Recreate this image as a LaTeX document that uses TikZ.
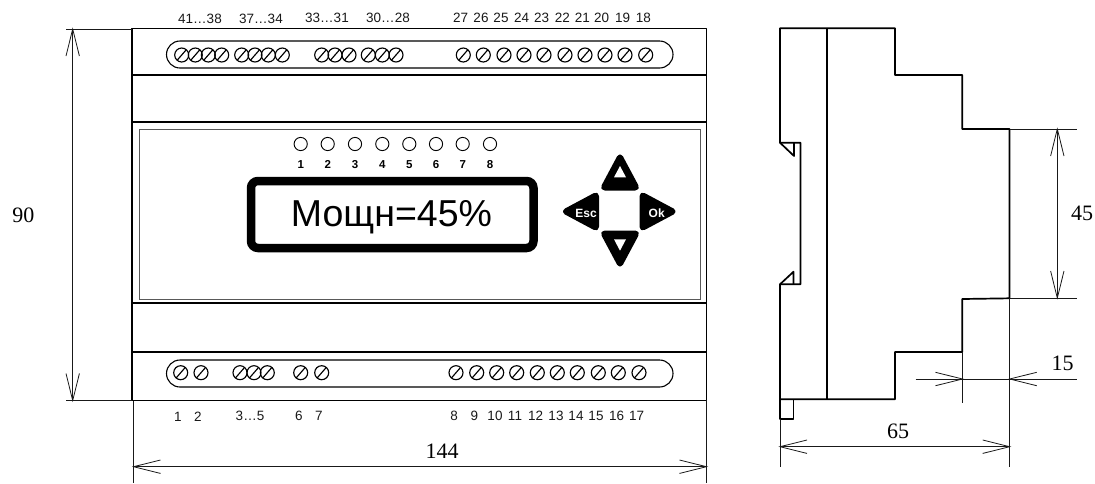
\documentclass[tikz,border=0pt]{standalone}
\usepackage{fontspec}
\setmainfont{Liberation Sans}
\newfontfamily\dimfont{Liberation Serif}
\tikzset{
  x=1pt,y=-1pt,
  outl/.style={draw=black,line width=1.7pt,line join=round},
  panelline/.style={draw=black!65,line width=0.9pt},
  slotline/.style={draw=black,line width=1.1pt},
  thinl/.style={draw=black!90,line width=0.8pt},
  screwc/.style={draw=black,line width=1.15pt},
  ledc/.style={draw=black,line width=0.9pt},
  termlab/.style={anchor=base,inner sep=0pt,font=\fontsize{13.5}{15}\selectfont,text=black!90},
  ledlab/.style={anchor=base,inner sep=0pt,font=\fontsize{11.5}{13}\selectfont\bfseries},
  dimlab/.style={anchor=base,inner sep=0pt,font=\dimfont\fontsize{22}{24}\selectfont},
  btn/.style={fill=black,draw=black,line width=2pt,line join=round,rounded corners=4.5pt},
  btnlab/.style={inner sep=0pt,text=white,font=\fontsize{12}{13}\selectfont\bfseries},
}
\newcommand{\screw}[2]{%
  \draw[screwc] (#1,#2) circle[radius=7];
  \draw[screwc] (#1+4.6,#2-5.3) -- (#1-4.6,#2+5.3);}
\newcommand{\headV}[3]{\draw[thinl] (#1-6.7,#2+#3) -- (#1,#2) -- (#1+6.7,#2+#3);}
\newcommand{\headH}[3]{\draw[thinl] (#1+#3,#2-6.7) -- (#1,#2) -- (#1+#3,#2+6.7);}
\begin{document}
\begin{tikzpicture}
\useasboundingbox (0,0) rectangle (1095,483);
% ---- front body
\draw[outl] (132,28.5) rectangle (706.5,400.5);
\foreach \yy in {75,122,303,352} {\draw[outl] (132,\yy) -- (706.5,\yy);}
\draw[panelline] (139,129.5) rectangle (700,299.5);
% slots
\draw[slotline,rounded corners=13.5pt] (166.5,41) rectangle (673,68);
\draw[slotline,rounded corners=13.5pt] (166.5,360) rectangle (673,387);
% top screws
\foreach \sx in {181.7,195.3,208.3,221.7,241.7,255,268.3,282.3,321.7,335,349,368.3,382.3,396,463.3,483.3,504,524,544,565,585,605,625,645.7}
  {\screw{\sx}{55}}
% bottom screws
\foreach \sx in {180.7,201,240,254,267.3,300.7,321.7,456,476.7,496.7,516.7,537.3,557.3,577.3,598.3,618.3,639}
  {\screw{\sx}{372.7}}
% top labels
\node[termlab] (t1) at (200,23) {41…38};
\node[termlab] (t2) at (261,23) {37…34};
\node[termlab] (t3) at (327,22) {33…31};
\node[termlab] (t4) at (388,22) {30…28};
\foreach \px/\ptxt in {460.7/27,481/26,501/25,521.7/24,541.7/23,562.3/22,582.3/21,601.7/20,622.7/19,643.3/18}
  {\node[termlab] at (\px,22) {\ptxt};}
% bottom labels
\node[termlab] (b1) at (178,421.5) {1};
\node[termlab] (b2) at (198,421.5) {2};
\node[termlab] (b3) at (250,420) {3…5};
\foreach \px/\ptxt in {299/6,319/7,454/8,474.3/9,495/10,515/11,535.7/12,556/13,576/14,596/15,616.7/16,636.7/17}
  {\node[termlab] at (\px,420) {\ptxt};}
% LEDs
\foreach \px/\ptxt in {300.7/1,327.7/2,355/3,382.3/4,409.3/5,436/6,462.7/7,490/8}{
  \draw[ledc] (\px,144) circle[radius=6.6];
  \node[ledlab] at (\px,168.5) {\ptxt};
}
% display
\draw[draw=black,line width=8.5pt,rounded corners=7pt] (251,181) rectangle (533.5,248);
\node[anchor=base,inner sep=0pt,font=\fontsize{37.5}{40}\selectfont] (disp) at (391.5,226.7) {Мощн=45\%};
% buttons
\draw[btn] (620,153) -- (639.5,189.5) -- (600.5,189.5) -- cycle;
\fill[white] (620,166) -- (626,177.3) -- (614,177.3) -- cycle;
\draw[btn] (620,268) -- (639.5,231.5) -- (600.5,231.5) -- cycle;
\fill[white] (620,250.7) -- (626,239.3) -- (614,239.3) -- cycle;
\draw[btn] (561.5,211.5) -- (598,192) -- (598,231) -- cycle;
\draw[btn] (677,211.5) -- (640.5,192) -- (640.5,231) -- cycle;
\node[btnlab] (esc) at (586,213) {Esc};
\node[btnlab] (ok) at (656.7,213) {Ok};
% dim 90
\coordinate (d90a) at (72.7,29); \coordinate (d90b) at (72.7,400.5);
\draw[thinl] (66,29) -- (132,29);
\draw[thinl] (66,400.5) -- (132,400.5);
\draw[thinl] (d90a) -- (d90b);
\headV{72.7}{29}{27}
\headV{72.7}{400.5}{-27}
\node[dimlab] (l90) at (23.5,222) {90};
% dim 144
\coordinate (d144a) at (133.5,466.7); \coordinate (d144b) at (706.5,466.7);
\draw[thinl] (133.5,400.5) -- (133.5,483);
\draw[thinl] (706.5,400.5) -- (706.5,483);
\draw[thinl] (d144a) -- (d144b);
\headH{133.5}{466.7}{27}
\headH{706.5}{466.7}{-27}
\node[dimlab] (l144) at (442,458) {144};
% ---- side view
\draw[outl] (780,28.3) -- (895,28.3) -- (895,75) -- (962.3,75) -- (962.3,129) -- (1009.5,129) -- (1009.5,298.3) -- (962.3,299) -- (962.3,352) -- (895,352) -- (895,399.3) -- (780,399.3) -- (780,284.3) -- (800.5,284.3) -- (800.5,142.7) -- (780,142.7) -- cycle;
\draw[outl] (827.3,28.3) -- (827.3,399.3);
\draw[outl] (780,142.7) -- (794,156) -- (794,142.7);
\draw[outl] (780,284.3) -- (793.5,271.7) -- (793.5,284.3);
\draw[outl] (780,399.3) -- (780,419.3) -- (793.5,419.3) -- (793.5,399.3);
% dim 45
\draw[thinl] (1009.5,129) -- (1077.3,129);
\draw[thinl] (1009.5,298) -- (1077.3,298);
\draw[thinl] (1057.3,129) -- (1057.3,298);
\headV{1057.3}{129}{27}
\headV{1057.3}{298}{-27}
\node[dimlab] (l45) at (1082,220.7) {45};
% dim 15
\draw[thinl] (962.5,352) -- (962.5,402.7);
\draw[thinl] (1009.7,298) -- (1009.7,466.7);
\draw[thinl] (915.7,379) -- (1077.3,379);
\headH{962.5}{379}{-27}
\headH{1009.7}{379}{27}
\node[dimlab] (l15) at (1062.7,370) {15};
% dim 65
\draw[thinl] (780,419) -- (780,466.7);
\draw[thinl] (780,446.7) -- (1009.7,446.7);
\headH{780}{446.7}{27}
\headH{1009.7}{446.7}{-27}
\node[dimlab] (l65) at (898,438) {65};
\end{tikzpicture}
\end{document}
